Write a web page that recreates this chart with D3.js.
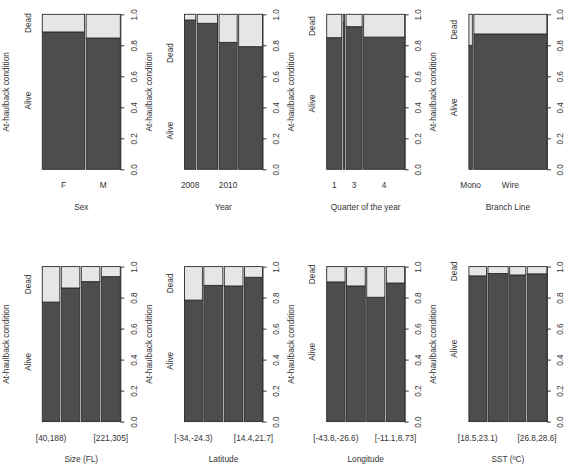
<!DOCTYPE html>
<html>
<head>
<meta charset="utf-8">
<script src="https://cdn.jsdelivr.net/npm/d3@7"></script>
<style>
  body { margin: 0; background: #fff; }
  text { font-family: "Liberation Sans", Arial, sans-serif; font-size: 8.3px; fill: #333; }
</style>
</head>
<body>
<div id="chart"></div>
<script>
// spineplots: bar width = share of observations, dark part = proportion alive
const sexCats = ["F", "M"];
const sexShare = [0.553, 0.447];
const sexAlive = [0.886, 0.847];
const sexShown = ["F", "M"];

const yearCats = ["2008", "2009", "2010", "2011"];
const yearShare = [0.153, 0.276, 0.247, 0.324];
const yearAlive = [0.963, 0.942, 0.819, 0.791];
const yearShown = ["2008", "2010"];

const quarterCats = ["1", "2", "3", "4"];
const quarterShare = [0.205, 0.018, 0.219, 0.558];
const quarterAlive = [0.849, 0.946, 0.92, 0.853];
const quarterShown = ["1", "3", "4"];

const branchCats = ["Mono", "Wire"];
const branchShare = [0.045, 0.955];
const branchAlive = [0.80, 0.873];
const branchShown = ["Mono", "Wire"];

const sizeCats = ["[40,188)", "[188,205)", "[205,221)", "[221,305]"];
const sizeShare = [0.238, 0.252, 0.252, 0.258];
const sizeAlive = [0.771, 0.862, 0.903, 0.935];
const sizeShown = ["[40,188)", "[221,305]"];

const latCats = ["[-34,-24.3)", "[-24.3,-3.1)", "[-3.1,14.4)", "[14.4,21.7]"];
const latShare = [0.243, 0.258, 0.254, 0.245];
const latAlive = [0.784, 0.879, 0.875, 0.931];
const latShown = ["[-34,-24.3)", "[14.4,21.7]"];

const lonCats = ["[-43.8,-26.6)", "[-26.6,-19.2)", "[-19.2,-11.1)", "[-11.1,8.73]"];
const lonShare = [0.25, 0.254, 0.246, 0.25];
const lonAlive = [0.901, 0.875, 0.802, 0.894];
const lonShown = ["[-43.8,-26.6)", "[-11.1,8.73]"];

const sstCats = ["[18.5,23.1)", "[23.1,25.2)", "[25.2,26.8)", "[26.8,28.6]"];
const sstShare = [0.239, 0.275, 0.219, 0.267];
const sstAlive = [0.94, 0.955, 0.946, 0.953];
const sstShown = ["[18.5,23.1)", "[26.8,28.6]"];

const yTicks = [0, 0.2, 0.4, 0.6, 0.8, 1.0];
const yTitle = "At-haulback condition";

const panels = [
  { title: "Sex", cats: sexCats, share: sexShare, alive: sexAlive, shown: sexShown },
  { title: "Year", cats: yearCats, share: yearShare, alive: yearAlive, shown: yearShown },
  { title: "Quarter of the year", cats: quarterCats, share: quarterShare, alive: quarterAlive, shown: quarterShown },
  { title: "Branch Line", cats: branchCats, share: branchShare, alive: branchAlive, shown: branchShown },
  { title: "Size (FL)", cats: sizeCats, share: sizeShare, alive: sizeAlive, shown: sizeShown },
  { title: "Latitude", cats: latCats, share: latShare, alive: latAlive, shown: latShown },
  { title: "Longitude", cats: lonCats, share: lonShare, alive: lonAlive, shown: lonShown },
  { title: "SST (ºC)", cats: sstCats, share: sstShare, alive: sstAlive, shown: sstShown }
];

const width = 570, height = 467;
const colW = 142.2, rowH = 252.3;
const pl = 42.3, pw = 78, pt = 14.3, ph = 155;
const off = 0.02;
const stroke = "#2b2b2b";

const svg = d3.select("#chart").append("svg")
  .attr("width", width)
  .attr("height", height);

panels.forEach((p, i) => {
  const g = svg.append("g")
    .attr("transform", `translate(${(i % 4) * colW},${Math.floor(i / 4) * rowH})`);

  const n = p.cats.length;
  const x = d3.scaleLinear().domain([0, 1 + off * (n - 1)]).range([pl, pl + pw]);
  const y = d3.scaleLinear().domain([0, 1]).range([pt + ph, pt]);

  let acc = 0;
  const bars = p.cats.map((c, j) => {
    const b = { cat: c, x0: acc, x1: acc + p.share[j], alive: p.alive[j] };
    acc += p.share[j] + off;
    return b;
  });

  // alive (dark) part
  g.selectAll(".alive").data(bars).join("rect")
    .attr("x", d => x(d.x0))
    .attr("width", d => x(d.x1) - x(d.x0))
    .attr("y", d => y(d.alive))
    .attr("height", d => y(0) - y(d.alive))
    .attr("fill", "#4D4D4D")
    .attr("stroke", stroke)
    .attr("stroke-width", 0.9);

  // dead (light) part
  g.selectAll(".dead").data(bars).join("rect")
    .attr("x", d => x(d.x0))
    .attr("width", d => x(d.x1) - x(d.x0))
    .attr("y", y(1))
    .attr("height", d => y(d.alive) - y(1))
    .attr("fill", "#E6E6E6")
    .attr("stroke", stroke)
    .attr("stroke-width", 0.9);

  // right axis with rotated labels
  const ax = g.append("g")
    .attr("transform", `translate(${pl + pw},0)`)
    .call(d3.axisRight(y).tickValues(yTicks).tickFormat(d3.format(".1f")).tickSize(4).tickSizeOuter(0));
  ax.select(".domain").attr("stroke", "#333");
  ax.selectAll(".tick line").attr("stroke", "#333");
  ax.selectAll("text")
    .attr("transform", "rotate(-90)")
    .attr("x", 0)
    .attr("y", 16.5)
    .attr("dy", null)
    .attr("text-anchor", "middle")
    .attr("fill", "#333")
    .style("font-size", "8.3px")
    .style("font-family", "'Liberation Sans', Arial, sans-serif");

  // left category labels placed by the first bar
  const a0 = p.alive[0];
  const equi = a0 < 0.05 || (1 - a0) < 0.05;
  const yLabs = [
    { t: "Alive", v: equi ? 0.25 : a0 / 2 },
    { t: "Dead", v: equi ? 0.75 : (a0 + 1) / 2 }
  ];
  g.selectAll(".ylab").data(yLabs).join("text")
    .attr("transform", d => `translate(30.5,${y(d.v)}) rotate(-90)`)
    .attr("text-anchor", "middle")
    .text(d => d.t);

  g.append("text")
    .attr("transform", `translate(9.3,${pt + ph / 2}) rotate(-90)`)
    .attr("text-anchor", "middle")
    .text(yTitle);

  // x labels (R drops the ones that would overlap)
  g.selectAll(".xlab").data(bars.filter(b => p.shown.includes(b.cat))).join("text")
    .attr("x", d => (x(d.x0) + x(d.x1)) / 2)
    .attr("y", 188.3)
    .attr("text-anchor", "middle")
    .text(d => d.cat);

  g.append("text")
    .attr("x", pl + pw / 2)
    .attr("y", 210)
    .attr("text-anchor", "middle")
    .text(p.title);
});
</script>
</body>
</html>
